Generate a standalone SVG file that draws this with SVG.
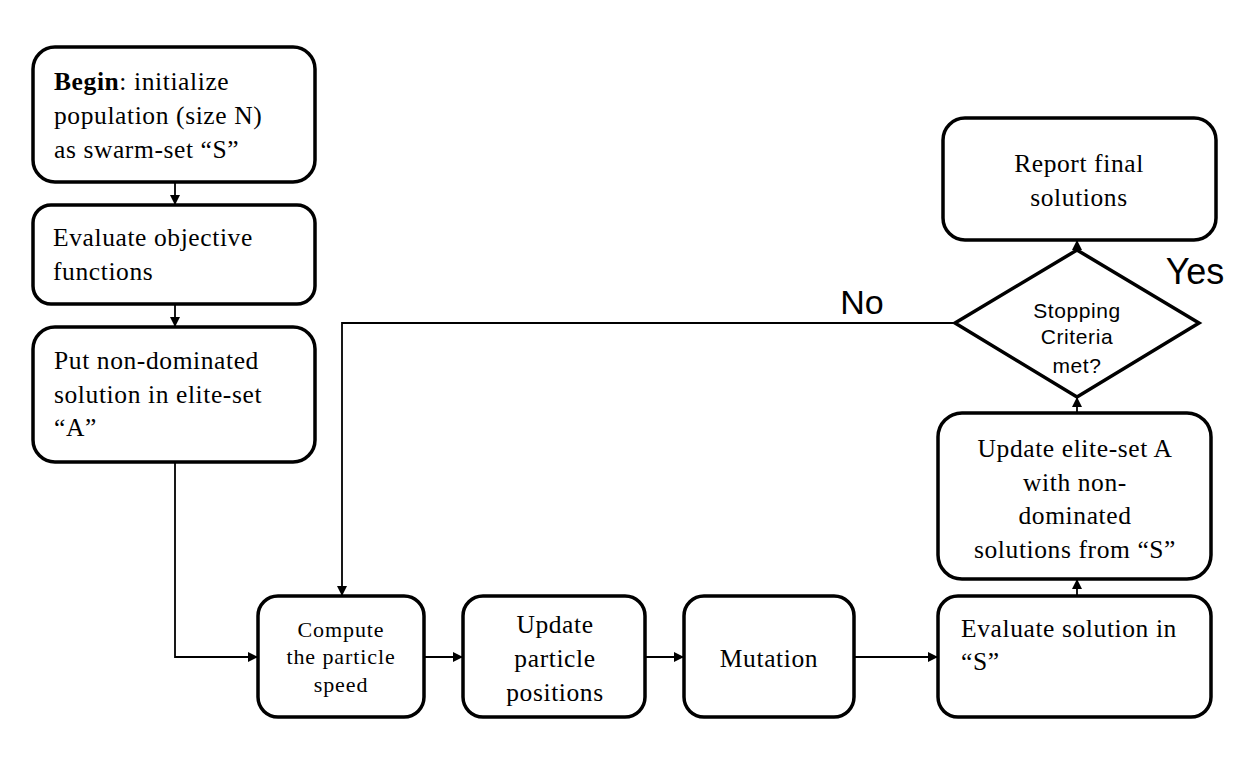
<svg xmlns="http://www.w3.org/2000/svg" width="1258" height="762" viewBox="0 0 1258 762">
<defs>
<marker id="ah" markerWidth="10" markerHeight="10" refX="9" refY="5" orient="auto" markerUnits="userSpaceOnUse">
<path d="M0,0 L10,5 L0,10 z" fill="#000"/>
</marker>
<style>
.box{fill:#fff;stroke:#000;stroke-width:3.5}
.t{font-family:'Liberation Serif','Times New Roman','DejaVu Serif',serif;font-size:25.5px;letter-spacing:0.6px;fill:#000}
.s{font-family:'Liberation Serif','Times New Roman','DejaVu Serif',serif;font-size:22px;letter-spacing:0.9px;fill:#000}
.a{font-family:'Liberation Sans',Arial,sans-serif;fill:#000}
.d{font-family:'Liberation Sans',Arial,sans-serif;font-size:21px;letter-spacing:0.6px;fill:#000;text-anchor:middle}
.c{text-anchor:middle}
.ln{fill:none;stroke:#000;stroke-width:1.8}
</style>
</defs>
<rect width="1258" height="762" fill="#fff"/>
<g id="connectors">
<line class="ln" x1="175" y1="182" x2="175" y2="204" marker-end="url(#ah)"/>
<line class="ln" x1="175" y1="304" x2="175" y2="326" marker-end="url(#ah)"/>
<polyline class="ln" points="175,462 175,657 257,657" marker-end="url(#ah)"/>
<line class="ln" x1="424" y1="657" x2="462" y2="657" marker-end="url(#ah)"/>
<line class="ln" x1="645" y1="657" x2="683" y2="657" marker-end="url(#ah)"/>
<line class="ln" x1="854" y1="657" x2="937" y2="657" marker-end="url(#ah)"/>
<line class="ln" x1="1077" y1="596" x2="1077" y2="580" marker-end="url(#ah)"/>
<line class="ln" x1="1077" y1="413" x2="1077" y2="398" marker-end="url(#ah)"/>
<line class="ln" x1="1077" y1="250" x2="1077" y2="241" marker-end="url(#ah)"/>
<polyline class="ln" points="955,323 342,323 342,595" marker-end="url(#ah)"/>
<text class="a" x="862" y="314" font-size="34" text-anchor="middle">No</text>
<text class="a" x="1195" y="284" font-size="36" text-anchor="middle">Yes</text>
</g>
<g id="begin">
<rect class="box" x="33" y="47" width="282" height="135" rx="22"/>
<text class="t" x="54" y="90"><tspan font-weight="bold">Begin</tspan>: initialize</text>
<text class="t" x="54" y="124">population (size N)</text>
<text class="t" x="54" y="158">as swarm-set “S”</text>
</g>
<g id="evaluate-objective">
<rect class="box" x="33" y="205" width="282" height="99" rx="18"/>
<text class="t" x="53" y="246">Evaluate objective</text>
<text class="t" x="53" y="280">functions</text>
</g>
<g id="put-nondominated">
<rect class="box" x="33" y="327" width="282" height="135" rx="22"/>
<text class="t" x="54" y="369">Put non-dominated</text>
<text class="t" x="54" y="403">solution in elite-set</text>
<text class="t" x="54" y="436">“A”</text>
</g>
<g id="compute-speed">
<rect class="box" x="258" y="596" width="166" height="121" rx="20"/>
<text class="s c" x="341" y="637">Compute</text>
<text class="s c" x="341" y="664">the particle</text>
<text class="s c" x="341" y="692">speed</text>
</g>
<g id="update-positions">
<rect class="box" x="463" y="596" width="182" height="121" rx="20"/>
<text class="t c" x="555" y="633">Update</text>
<text class="t c" x="555" y="667">particle</text>
<text class="t c" x="555" y="701">positions</text>
</g>
<g id="mutation">
<rect class="box" x="684" y="596" width="170" height="121" rx="20"/>
<text class="t c" x="769" y="667">Mutation</text>
</g>
<g id="evaluate-solution">
<rect class="box" x="938" y="596" width="273" height="121" rx="20"/>
<text class="t" x="961" y="637">Evaluate solution in</text>
<text class="t" x="961" y="670">“S”</text>
</g>
<g id="update-elite">
<rect class="box" x="938" y="413" width="273" height="166" rx="24"/>
<text class="t c" x="1075" y="457">Update elite-set A</text>
<text class="t c" x="1075" y="491">with non-</text>
<text class="t c" x="1075" y="524">dominated</text>
<text class="t c" x="1075" y="558">solutions from “S”</text>
</g>
<g id="stopping-criteria">
<polygon class="box" points="1077,250 1199,323 1077,397 955,323"/>
<text class="d" x="1077" y="318">Stopping</text>
<text class="d" x="1077" y="344">Criteria</text>
<text class="d" x="1077" y="373">met?</text>
</g>
<g id="report-final">
<rect class="box" x="943" y="118" width="273" height="122" rx="22"/>
<text class="t c" x="1079" y="172">Report final</text>
<text class="t c" x="1079" y="206">solutions</text>
</g>
</svg>
